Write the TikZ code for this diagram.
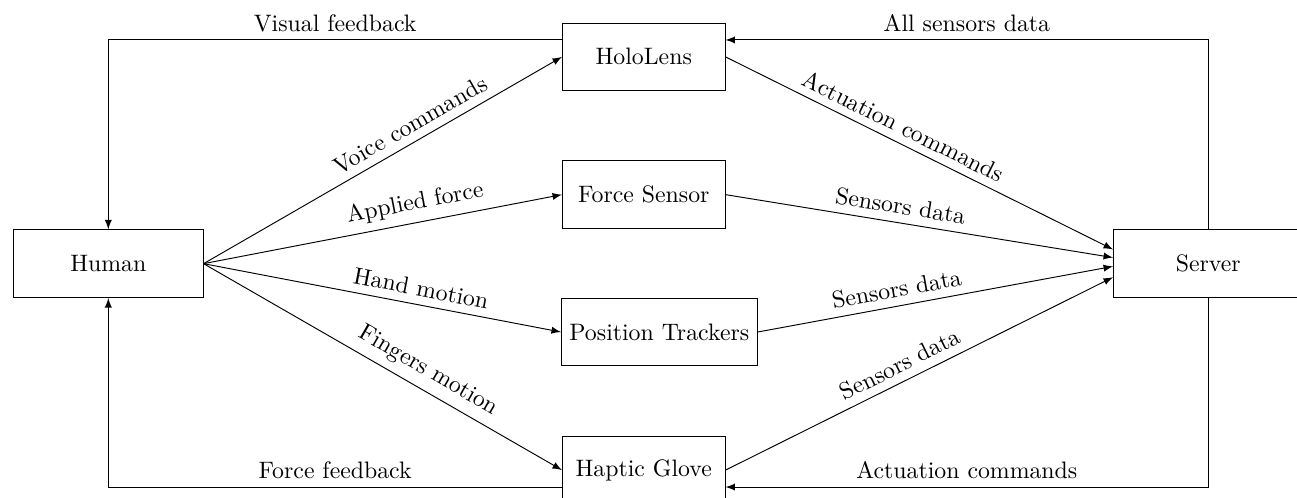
\documentclass[tikz,border=0pt]{standalone}
\usetikzlibrary{arrows}

\tikzset{block/.style = {shape = rectangle,
                         color = black,
                         minimum height = 1cm,
                         minimum width = 2.4cm,
                         draw}}

\begin{document}
\begin{tikzpicture}[block/.style = {shape = rectangle,
                                    color = black,
                                    minimum height = 1cm,
                                    minimum width = 2.4cm,
                                    draw},
                    wblock/.style = {block, minimum width = 2.8cm},
                    lbl/.style = {above, sloped},
                    >=latex]
		\useasboundingbox (-1.6,-3.46) rectangle (17.56,3.895);
		\node[wblock] (human) at (0,0) {Human};
		\node[block] (holo) at (7.91,3.055) {HoloLens};
		\node[block] (force) at (7.91,1.02) {Force Sensor};
		\node[block] (track) at (8.14,-1.01) {Position Trackers};
		\node[block] (glove) at (7.91,-3.05) {Haptic Glove};
		\node[wblock] (server) at (16.25,0) {Server};
		\path[->] (human.east) edge node[lbl, pos=0.6] {Voice commands} (holo.west);
		\path[->] (human.east) edge node[lbl, pos=0.6] {Applied force} (force.west);
		\path[->] (human.east) edge node[lbl, pos=0.6] {Hand motion} (track.west);
		\path[->] (human.east) edge node[lbl, pos=0.6] {Fingers motion} (glove.west);
		\path[->] (holo.east) edge node[lbl, pos=0.44] {Actuation commands} ([yshift=0.21cm]server.west);
		\path[->] (force.east) edge node[lbl, pos=0.445] {Sensors data} ([yshift=0.09cm]server.west);
		\path[->] (track.east) edge node[lbl, pos=0.4] {Sensors data} ([yshift=-0.04cm]server.west);
		\path[->] (glove.east) edge node[lbl, pos=0.47] {Sensors data} ([yshift=-0.2cm]server.west);
		\draw[->] ([yshift=0.25cm]holo.west) -| node[above, pos=0.25] {Visual feedback} (human.north);
		\draw[->] ([yshift=-0.25cm]glove.west) -| node[above, pos=0.25] {Force feedback} (human.south);
		\draw[->] (server.north) |- node[above, pos=0.75] {All sensors data} ([yshift=0.25cm]holo.east);
		\draw[->] (server.south) |- node[above, pos=0.75] {Actuation commands} ([yshift=-0.25cm]glove.east);
	\end{tikzpicture}
\end{document}
